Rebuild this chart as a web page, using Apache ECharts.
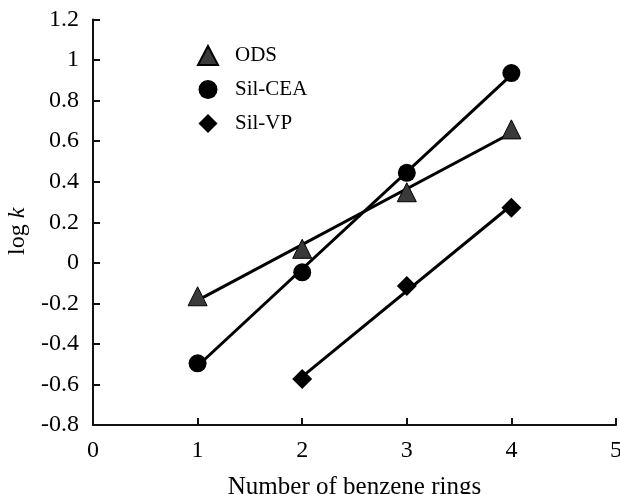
<!DOCTYPE html>
<html>
<head>
<meta charset="utf-8">
<script src="https://cdn.jsdelivr.net/npm/echarts@6/dist/echarts.min.js"></script>
<style>
    html, body { margin: 0; padding: 0; background: #fff; }
    #main { width: 620px; height: 494px; }
</style>
</head>
<body>
<div id="main"></div>
<script>
// measured points
var rings = [1, 2, 3, 4];
var odsLogK = [-0.165, 0.069, 0.348, 0.658];
var ceaLogK = [-0.496, -0.047, 0.444, 0.936];
var vpRings = [2, 3, 4];
var vpLogK = [-0.573, -0.114, 0.272];

// fitted line end points
var odsFitX = [1, 4];
var odsFitY = [-0.185, 0.640];
var ceaFitX = [1, 4];
var ceaFitY = [-0.509, 0.927];
var vpFitX = [2, 4];
var vpFitY = [-0.561, 0.284];

var seriesNames = ['ODS', 'Sil-CEA', 'Sil-VP'];

function pairs(xs, ys) {
    var out = [];
    for (var i = 0; i < xs.length; i++) {
        out.push([xs[i], ys[i]]);
    }
    return out;
}

var font = 'Liberation Serif';
var diamondIcon = 'path://M10,0 L20,10 L10,20 L0,10 Z';

function fitLine(xs, ys) {
    return {
        type: 'line',
        data: pairs(xs, ys),
        symbol: 'none',
        silent: true,
        z: 2,
        lineStyle: { color: '#000', width: 3 }
    };
}

var chart = echarts.init(document.getElementById('main'));
var option = {
    backgroundColor: '#fff',
    animation: false,
    grid: { left: 93, right: 4, top: 19.5, bottom: 69, outerBoundsMode: 'none', containLabel: false },
    legend: {
        orient: 'vertical',
        left: 192,
        top: 40,
        itemWidth: 20,
        itemHeight: 19,
        itemGap: 13,
        data: [
            { name: 'ODS', icon: 'triangle' },
            { name: 'Sil-CEA', icon: 'circle' },
            { name: 'Sil-VP', icon: diamondIcon }
        ],
        textStyle: { fontFamily: font, fontSize: 21, color: '#000', padding: [0, 0, 0, 12] }
    },
    xAxis: {
        type: 'value',
        min: 0,
        max: 5,
        interval: 1,
        name: 'Number of benzene rings',
        nameLocation: 'middle',
        nameGap: 50,
        nameTextStyle: { fontFamily: font, fontSize: 25, color: '#000' },
        axisLine: { onZero: false, lineStyle: { color: '#111', width: 2 } },
        axisTick: { inside: true, length: 7, lineStyle: { color: '#111', width: 2 } },
        axisLabel: { fontFamily: font, fontSize: 24, color: '#000', margin: 14 },
        splitLine: { show: false }
    },
    yAxis: {
        type: 'value',
        min: -0.8,
        max: 1.2,
        interval: 0.2,
        name: 'log {k|k}   ',
        nameLocation: 'middle',
        nameGap: 53,
        nameTextStyle: {
            fontFamily: font, fontSize: 24, color: '#000',
            rich: { k: { fontFamily: font, fontSize: 24, fontStyle: 'italic', color: '#000' } }
        },
        axisLine: { onZero: false, lineStyle: { color: '#111', width: 2 } },
        axisTick: { inside: true, length: 7, lineStyle: { color: '#111', width: 2 } },
        axisLabel: { fontFamily: font, fontSize: 24, color: '#000', margin: 14 },
        splitLine: { show: false }
    },
    series: [
        fitLine(odsFitX, odsFitY),
        fitLine(ceaFitX, ceaFitY),
        fitLine(vpFitX, vpFitY),
        {
            name: seriesNames[0],
            type: 'scatter',
            symbol: 'triangle',
            symbolSize: [19, 19],
            z: 3,
            data: pairs(rings, odsLogK),
            itemStyle: { color: '#3a3a3a', borderColor: '#000', borderWidth: 1, opacity: 1 }
        },
        {
            name: seriesNames[1],
            type: 'scatter',
            symbol: 'circle',
            symbolSize: 18,
            z: 3,
            data: pairs(rings, ceaLogK),
            itemStyle: { color: '#000', opacity: 1 }
        },
        {
            name: seriesNames[2],
            type: 'scatter',
            symbol: diamondIcon,
            symbolSize: [20, 20],
            z: 3,
            data: pairs(vpRings, vpLogK),
            itemStyle: { color: '#000', opacity: 1 }
        }
    ]
};
chart.setOption(option);
</script>
</body>
</html>
